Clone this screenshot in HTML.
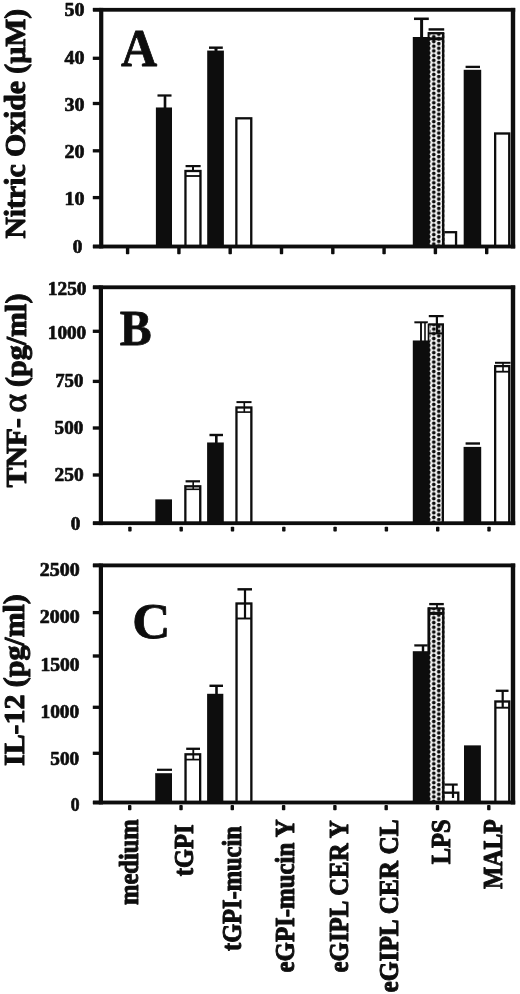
<!DOCTYPE html>
<html lang="en"><head><meta charset="utf-8"><title>Figure</title>
<style>
html,body{margin:0;padding:0;background:#fff;}
body{width:520px;height:994px;overflow:hidden;}
svg{display:block;}
text{font-family:"Liberation Serif",serif;font-weight:bold;fill:#0a0a0a;stroke:#0a0a0a;stroke-width:0.65px;stroke-linejoin:round;}
.yl{stroke-width:1.0px;}
.xl{stroke-width:0.9px;}
.pl{stroke-width:0.8px;}
</style></head><body>
<svg width="520" height="994" viewBox="0 0 520 994">
<defs>
<pattern id="dotsA" x="431.3" y="1.47" width="10" height="4.71" patternUnits="userSpaceOnUse">
<rect x="0" y="0" width="10" height="4.71" fill="#fff"/>
<circle cx="2.5" cy="2.355" r="1.9" fill="#0a0a0a"/>
<circle cx="7.5" cy="4.5" r="1.9" fill="#0a0a0a"/>
<circle cx="7.5" cy="-0.21" r="1.9" fill="#0a0a0a"/>
</pattern>
<pattern id="dotsB" x="431.3" y="1.73" width="10" height="4.71" patternUnits="userSpaceOnUse">
<rect x="0" y="0" width="10" height="4.71" fill="#fff"/>
<circle cx="2.5" cy="2.355" r="1.9" fill="#0a0a0a"/>
<circle cx="7.5" cy="4.5" r="1.9" fill="#0a0a0a"/>
<circle cx="7.5" cy="-0.21" r="1.9" fill="#0a0a0a"/>
</pattern>
<pattern id="dotsC" x="431.3" y="3.17" width="10" height="4.71" patternUnits="userSpaceOnUse">
<rect x="0" y="0" width="10" height="4.71" fill="#fff"/>
<circle cx="2.5" cy="2.355" r="1.9" fill="#0a0a0a"/>
<circle cx="7.5" cy="4.5" r="1.9" fill="#0a0a0a"/>
<circle cx="7.5" cy="-0.21" r="1.9" fill="#0a0a0a"/>
</pattern>
<filter id="soft" x="0" y="0" width="520" height="994" filterUnits="userSpaceOnUse"><feGaussianBlur stdDeviation="0.45"/></filter>
</defs>
<rect x="0" y="0" width="520" height="994" fill="#fff"/>
<g filter="url(#soft)">

<rect x="155.90" y="107.50" width="16.10" height="139.00" fill="#0a0a0a"/>
<rect x="157.50" y="94.40" width="14.00" height="2.20" fill="#0a0a0a"/>
<rect x="163.70" y="95.50" width="2.60" height="12.50" fill="#0a0a0a"/>
<rect x="185.45" y="171.00" width="15.00" height="75.50" fill="#fff" stroke="#0a0a0a" stroke-width="2.3"/>
<rect x="185.60" y="165.00" width="15.00" height="2.20" fill="#0a0a0a"/>
<rect x="186.00" y="175.10" width="14.00" height="1.80" fill="#0a0a0a"/>
<rect x="192.00" y="166.00" width="2.00" height="5.00" fill="#0a0a0a"/>
<rect x="207.20" y="50.60" width="16.70" height="195.90" fill="#0a0a0a"/>
<rect x="209.00" y="46.50" width="13.80" height="2.40" fill="#0a0a0a"/>
<rect x="214.50" y="47.70" width="3.00" height="3.30" fill="#0a0a0a"/>
<rect x="236.35" y="118.30" width="14.90" height="128.20" fill="#fff" stroke="#0a0a0a" stroke-width="2.3"/>
<rect x="412.80" y="37.00" width="17.20" height="209.50" fill="#0a0a0a"/>
<rect x="414.00" y="17.55" width="14.80" height="2.50" fill="#0a0a0a"/>
<rect x="420.10" y="18.80" width="3.00" height="18.70" fill="#0a0a0a"/>
<rect x="443.35" y="232.20" width="12.70" height="14.30" fill="#fff" stroke="#0a0a0a" stroke-width="2.3"/>
<rect x="429.70" y="33.20" width="14.60" height="213.30" fill="url(#dotsA)"/>
<rect x="442.00" y="33.20" width="2.30" height="213.30" fill="#0a0a0a"/>
<rect x="428.30" y="32.05" width="16.00" height="2.30" fill="#0a0a0a"/>
<rect x="428.60" y="28.20" width="15.60" height="2.40" fill="#0a0a0a"/>
<rect x="428.80" y="37.30" width="15.20" height="3.00" fill="#0a0a0a"/>
<rect x="427.60" y="32.10" width="2.00" height="5.90" fill="#0a0a0a"/>
<rect x="463.70" y="69.80" width="17.50" height="176.70" fill="#0a0a0a"/>
<rect x="465.60" y="65.75" width="14.40" height="2.30" fill="#0a0a0a"/>
<rect x="495.15" y="133.50" width="14.10" height="113.00" fill="#fff" stroke="#0a0a0a" stroke-width="2.3"/>
<rect x="93.00" y="7.90" width="422.20" height="3.80" fill="#0a0a0a"/>
<rect x="93.00" y="244.60" width="422.20" height="3.80" fill="#0a0a0a"/>
<rect x="99.10" y="7.90" width="4.20" height="240.50" fill="#0a0a0a"/>
<rect x="510.80" y="7.90" width="4.40" height="240.50" fill="#0a0a0a"/>
<rect x="92.80" y="7.95" width="8.40" height="3.30" fill="#0a0a0a"/>
<rect x="92.80" y="56.65" width="8.40" height="3.30" fill="#0a0a0a"/>
<rect x="92.80" y="101.85" width="8.40" height="3.30" fill="#0a0a0a"/>
<rect x="92.80" y="149.15" width="8.40" height="3.30" fill="#0a0a0a"/>
<rect x="92.80" y="195.95" width="8.40" height="3.30" fill="#0a0a0a"/>
<rect x="92.80" y="244.85" width="8.40" height="3.30" fill="#0a0a0a"/>
<rect x="125.90" y="246.50" width="3.4" height="7.80" rx="0.8" fill="#0a0a0a"/>
<rect x="177.20" y="246.50" width="3.4" height="7.80" rx="0.8" fill="#0a0a0a"/>
<rect x="228.50" y="246.50" width="3.4" height="7.80" rx="0.8" fill="#0a0a0a"/>
<rect x="279.80" y="246.50" width="3.4" height="7.80" rx="0.8" fill="#0a0a0a"/>
<rect x="331.10" y="246.50" width="3.4" height="7.80" rx="0.8" fill="#0a0a0a"/>
<rect x="382.40" y="246.50" width="3.4" height="7.80" rx="0.8" fill="#0a0a0a"/>
<rect x="433.70" y="246.50" width="3.4" height="7.80" rx="0.8" fill="#0a0a0a"/>
<rect x="485.00" y="246.50" width="3.4" height="7.80" rx="0.8" fill="#0a0a0a"/>
<rect x="155.30" y="499.40" width="16.70" height="23.80" fill="#0a0a0a"/>
<rect x="185.35" y="486.30" width="14.90" height="36.90" fill="#fff" stroke="#0a0a0a" stroke-width="2.3"/>
<rect x="185.60" y="480.20" width="14.40" height="2.20" fill="#0a0a0a"/>
<rect x="186.00" y="488.50" width="14.00" height="1.60" fill="#0a0a0a"/>
<rect x="192.40" y="481.30" width="1.60" height="8.00" fill="#0a0a0a"/>
<rect x="207.10" y="442.50" width="16.70" height="80.70" fill="#0a0a0a"/>
<rect x="209.50" y="433.80" width="13.50" height="2.40" fill="#0a0a0a"/>
<rect x="215.00" y="435.00" width="2.60" height="8.00" fill="#0a0a0a"/>
<rect x="236.45" y="407.50" width="14.90" height="115.70" fill="#fff" stroke="#0a0a0a" stroke-width="2.3"/>
<rect x="236.50" y="401.10" width="15.00" height="2.00" fill="#0a0a0a"/>
<rect x="237.00" y="411.30" width="14.00" height="1.60" fill="#0a0a0a"/>
<rect x="243.50" y="402.10" width="1.60" height="10.00" fill="#0a0a0a"/>
<rect x="412.80" y="340.50" width="17.20" height="182.70" fill="#0a0a0a"/>
<rect x="414.40" y="321.30" width="13.40" height="2.00" fill="#0a0a0a"/>
<rect x="420.05" y="322.40" width="1.90" height="18.60" fill="#0a0a0a"/>
<rect x="424.20" y="322.40" width="1.60" height="18.60" fill="#0a0a0a"/>
<rect x="429.70" y="324.40" width="14.30" height="198.80" fill="url(#dotsB)"/>
<rect x="441.70" y="324.40" width="2.30" height="198.80" fill="#0a0a0a"/>
<rect x="428.30" y="323.25" width="15.70" height="2.30" fill="#0a0a0a"/>
<rect x="427.70" y="324.00" width="1.60" height="17.00" fill="#0a0a0a"/>
<rect x="428.80" y="315.00" width="14.80" height="2.20" fill="#0a0a0a"/>
<rect x="435.80" y="316.00" width="2.20" height="18.00" fill="#0a0a0a"/>
<rect x="429.00" y="332.40" width="14.00" height="2.00" fill="#0a0a0a"/>
<rect x="463.60" y="446.90" width="17.60" height="76.30" fill="#0a0a0a"/>
<rect x="465.60" y="442.35" width="14.40" height="2.30" fill="#0a0a0a"/>
<rect x="495.15" y="366.10" width="14.10" height="157.10" fill="#fff" stroke="#0a0a0a" stroke-width="2.3"/>
<rect x="495.00" y="361.80" width="15.50" height="2.00" fill="#0a0a0a"/>
<rect x="496.00" y="370.80" width="13.00" height="1.80" fill="#0a0a0a"/>
<rect x="502.20" y="362.80" width="1.60" height="8.90" fill="#0a0a0a"/>
<rect x="93.00" y="285.40" width="422.20" height="3.80" fill="#0a0a0a"/>
<rect x="93.00" y="521.30" width="422.20" height="3.80" fill="#0a0a0a"/>
<rect x="98.80" y="285.40" width="4.20" height="239.70" fill="#0a0a0a"/>
<rect x="510.80" y="285.40" width="4.40" height="239.70" fill="#0a0a0a"/>
<rect x="92.80" y="285.65" width="8.10" height="3.30" fill="#0a0a0a"/>
<rect x="92.80" y="329.65" width="8.10" height="3.30" fill="#0a0a0a"/>
<rect x="92.80" y="379.75" width="8.10" height="3.30" fill="#0a0a0a"/>
<rect x="92.80" y="426.35" width="8.10" height="3.30" fill="#0a0a0a"/>
<rect x="92.80" y="473.35" width="8.10" height="3.30" fill="#0a0a0a"/>
<rect x="92.80" y="521.55" width="8.10" height="3.30" fill="#0a0a0a"/>
<rect x="128.20" y="526.80" width="3.4" height="4.80" rx="0.8" fill="#0a0a0a"/>
<rect x="179.50" y="526.80" width="3.4" height="4.80" rx="0.8" fill="#0a0a0a"/>
<rect x="230.80" y="526.80" width="3.4" height="4.80" rx="0.8" fill="#0a0a0a"/>
<rect x="282.10" y="526.80" width="3.4" height="4.80" rx="0.8" fill="#0a0a0a"/>
<rect x="333.40" y="526.80" width="3.4" height="4.80" rx="0.8" fill="#0a0a0a"/>
<rect x="384.70" y="526.80" width="3.4" height="4.80" rx="0.8" fill="#0a0a0a"/>
<rect x="436.00" y="526.80" width="3.4" height="4.80" rx="0.8" fill="#0a0a0a"/>
<rect x="487.30" y="526.80" width="3.4" height="4.80" rx="0.8" fill="#0a0a0a"/>
<rect x="155.20" y="773.20" width="16.80" height="29.30" fill="#0a0a0a"/>
<rect x="157.00" y="768.70" width="15.00" height="2.20" fill="#0a0a0a"/>
<rect x="185.55" y="754.30" width="14.60" height="48.20" fill="#fff" stroke="#0a0a0a" stroke-width="2.3"/>
<rect x="186.20" y="747.65" width="13.80" height="2.30" fill="#0a0a0a"/>
<rect x="186.00" y="758.75" width="14.00" height="1.70" fill="#0a0a0a"/>
<rect x="192.40" y="748.80" width="1.80" height="10.80" fill="#0a0a0a"/>
<rect x="207.10" y="693.80" width="16.20" height="108.70" fill="#0a0a0a"/>
<rect x="209.50" y="684.60" width="13.50" height="2.40" fill="#0a0a0a"/>
<rect x="215.20" y="685.80" width="2.60" height="8.20" fill="#0a0a0a"/>
<rect x="236.55" y="603.50" width="14.80" height="199.00" fill="#fff" stroke="#0a0a0a" stroke-width="2.3"/>
<rect x="237.50" y="588.10" width="14.50" height="2.40" fill="#0a0a0a"/>
<rect x="237.00" y="617.55" width="14.00" height="1.90" fill="#0a0a0a"/>
<rect x="243.90" y="589.30" width="2.20" height="29.20" fill="#0a0a0a"/>
<rect x="412.80" y="651.20" width="17.20" height="151.30" fill="#0a0a0a"/>
<rect x="414.30" y="644.30" width="13.40" height="2.20" fill="#0a0a0a"/>
<rect x="421.80" y="645.40" width="2.40" height="6.60" fill="#0a0a0a"/>
<rect x="443.35" y="792.70" width="14.90" height="9.80" fill="#fff" stroke="#0a0a0a" stroke-width="2.3"/>
<rect x="443.80" y="783.50" width="13.90" height="2.20" fill="#0a0a0a"/>
<rect x="451.90" y="784.60" width="2.20" height="13.40" fill="#0a0a0a"/>
<rect x="429.70" y="608.40" width="14.70" height="194.10" fill="url(#dotsC)"/>
<rect x="442.10" y="608.40" width="2.30" height="194.10" fill="#0a0a0a"/>
<rect x="428.30" y="607.25" width="16.10" height="2.30" fill="#0a0a0a"/>
<rect x="427.45" y="607.30" width="2.70" height="44.70" fill="#0a0a0a"/>
<rect x="429.20" y="602.95" width="14.60" height="2.30" fill="#0a0a0a"/>
<rect x="429.00" y="611.90" width="14.00" height="3.00" fill="#0a0a0a"/>
<rect x="436.10" y="604.10" width="1.80" height="3.90" fill="#0a0a0a"/>
<rect x="464.00" y="745.40" width="16.90" height="57.10" fill="#0a0a0a"/>
<rect x="495.35" y="701.50" width="13.90" height="101.00" fill="#fff" stroke="#0a0a0a" stroke-width="2.3"/>
<rect x="495.80" y="689.65" width="12.70" height="2.30" fill="#0a0a0a"/>
<rect x="496.00" y="706.75" width="13.00" height="1.90" fill="#0a0a0a"/>
<rect x="501.60" y="690.80" width="2.20" height="16.90" fill="#0a0a0a"/>
<rect x="93.00" y="563.50" width="422.20" height="3.80" fill="#0a0a0a"/>
<rect x="93.00" y="800.60" width="422.20" height="3.80" fill="#0a0a0a"/>
<rect x="98.80" y="563.50" width="4.20" height="240.90" fill="#0a0a0a"/>
<rect x="510.80" y="563.50" width="4.40" height="240.90" fill="#0a0a0a"/>
<rect x="92.80" y="563.75" width="8.10" height="3.30" fill="#0a0a0a"/>
<rect x="92.80" y="610.95" width="8.10" height="3.30" fill="#0a0a0a"/>
<rect x="92.80" y="654.35" width="8.10" height="3.30" fill="#0a0a0a"/>
<rect x="92.80" y="705.65" width="8.10" height="3.30" fill="#0a0a0a"/>
<rect x="92.80" y="751.65" width="8.10" height="3.30" fill="#0a0a0a"/>
<rect x="92.80" y="800.85" width="8.10" height="3.30" fill="#0a0a0a"/>
<rect x="128.00" y="805.10" width="3.4" height="5.20" rx="0.8" fill="#0a0a0a"/>
<rect x="179.30" y="805.10" width="3.4" height="5.20" rx="0.8" fill="#0a0a0a"/>
<rect x="230.60" y="805.10" width="3.4" height="5.20" rx="0.8" fill="#0a0a0a"/>
<rect x="281.90" y="805.10" width="3.4" height="5.20" rx="0.8" fill="#0a0a0a"/>
<rect x="333.20" y="805.10" width="3.4" height="5.20" rx="0.8" fill="#0a0a0a"/>
<rect x="384.50" y="805.10" width="3.4" height="5.20" rx="0.8" fill="#0a0a0a"/>
<rect x="435.80" y="805.10" width="3.4" height="5.20" rx="0.8" fill="#0a0a0a"/>
<rect x="487.10" y="805.10" width="3.4" height="5.20" rx="0.8" fill="#0a0a0a"/>
<text x="64.4" y="16.45" font-size="18.5" textLength="20.0" lengthAdjust="spacingAndGlyphs">50</text>
<text x="64.4" y="64.25" font-size="18.5" textLength="20.0" lengthAdjust="spacingAndGlyphs">40</text>
<text x="64.4" y="111.05" font-size="18.5" textLength="20.0" lengthAdjust="spacingAndGlyphs">30</text>
<text x="64.4" y="157.75" font-size="18.5" textLength="20.0" lengthAdjust="spacingAndGlyphs">20</text>
<text x="64.4" y="204.55" font-size="18.5" textLength="20.0" lengthAdjust="spacingAndGlyphs">10</text>
<text x="72.7" y="252.65" font-size="18.5" textLength="9.6" lengthAdjust="spacingAndGlyphs">0</text>
<text x="47.8" y="294.95" font-size="18.5" textLength="38.7" lengthAdjust="spacingAndGlyphs">1250</text>
<text x="47.8" y="338.95" font-size="18.5" textLength="38.4" lengthAdjust="spacingAndGlyphs">1000</text>
<text x="55.2" y="387.25" font-size="18.5" textLength="28.1" lengthAdjust="spacingAndGlyphs">750</text>
<text x="54.6" y="434.35" font-size="18.5" textLength="28.6" lengthAdjust="spacingAndGlyphs">500</text>
<text x="54.5" y="481.15" font-size="18.5" textLength="29.1" lengthAdjust="spacingAndGlyphs">250</text>
<text x="70.8" y="529.65" font-size="18.5" textLength="9.6" lengthAdjust="spacingAndGlyphs">0</text>
<text x="39.8" y="575.85" font-size="18.5" textLength="39.9" lengthAdjust="spacingAndGlyphs">2500</text>
<text x="39.8" y="623.05" font-size="18.5" textLength="39.9" lengthAdjust="spacingAndGlyphs">2000</text>
<text x="40.4" y="670.55" font-size="18.5" textLength="39.1" lengthAdjust="spacingAndGlyphs">1500</text>
<text x="40.5" y="717.95" font-size="18.5" textLength="38.7" lengthAdjust="spacingAndGlyphs">1000</text>
<text x="50.3" y="764.75" font-size="18.5" textLength="28.9" lengthAdjust="spacingAndGlyphs">500</text>
<text x="70.8" y="810.75" font-size="18.5" textLength="8.8" lengthAdjust="spacingAndGlyphs">0</text>
<text class="yl" transform="translate(25.1,238.6) scale(0.98,1) rotate(-90)" font-size="30" textLength="229.8" lengthAdjust="spacingAndGlyphs">Nitric Oxide (µM)</text>
<text class="yl" transform="translate(26.2,487.6) scale(0.97,1) rotate(-90)" font-size="30" textLength="69.6" lengthAdjust="spacingAndGlyphs">TNF-</text>
<text transform="translate(26.2,412.5) rotate(-90)" font-size="33" style="font-weight:normal;stroke-width:1.0px" textLength="18.6" lengthAdjust="spacingAndGlyphs">α</text>
<text class="yl" transform="translate(26.2,386.9) scale(0.97,1) rotate(-90)" font-size="30" textLength="93.3" lengthAdjust="spacingAndGlyphs">(pg/ml)</text>
<text class="yl" transform="translate(23.5,766.0) scale(0.98,1) rotate(-90)" font-size="30" textLength="171.8" lengthAdjust="spacingAndGlyphs">IL-12 (pg/ml)</text>
<text class="pl" transform="translate(120.9,66.4) scale(0.955,1)" font-size="52.5">A</text>
<text class="pl" transform="translate(119.7,344.5) scale(0.955,1)" font-size="50">B</text>
<text class="pl" transform="translate(132.2,637.8) scale(1.035,1)" font-size="51">C</text>
<text class="xl" transform="translate(137.5,905.0) scale(1.08,1) rotate(-90)" font-size="24.5" textLength="85.8" lengthAdjust="spacingAndGlyphs">medium</text>
<text class="xl" transform="translate(193.3,876.2) scale(1.08,1) rotate(-90)" font-size="24.5" textLength="51.6" lengthAdjust="spacingAndGlyphs">tGPI</text>
<text class="xl" transform="translate(241.1,951.0) scale(1.08,1) rotate(-90)" font-size="24.5" textLength="124.8" lengthAdjust="spacingAndGlyphs">tGPI-mucin</text>
<text class="xl" transform="translate(293.7,972.5) scale(1.08,1) rotate(-90)" font-size="24.5" textLength="153.1" lengthAdjust="spacingAndGlyphs">eGPI-mucin Y</text>
<text class="xl" transform="translate(347.5,972.4) scale(1.08,1) rotate(-90)" font-size="24.5" textLength="152.2" lengthAdjust="spacingAndGlyphs">eGIPL CER Y</text>
<text class="xl" transform="translate(397.8,992.4) scale(1.08,1) rotate(-90)" font-size="24.5" textLength="173.0" lengthAdjust="spacingAndGlyphs">eGIPL CER CL</text>
<text class="xl" transform="translate(449.5,864.2) scale(1.08,1) rotate(-90)" font-size="24.5" textLength="44.8" lengthAdjust="spacingAndGlyphs">LPS</text>
<text class="xl" transform="translate(501.7,889.0) scale(1.08,1) rotate(-90)" font-size="24.5" textLength="69.6" lengthAdjust="spacingAndGlyphs">MALP</text>
</g>
</svg>
</body></html>
